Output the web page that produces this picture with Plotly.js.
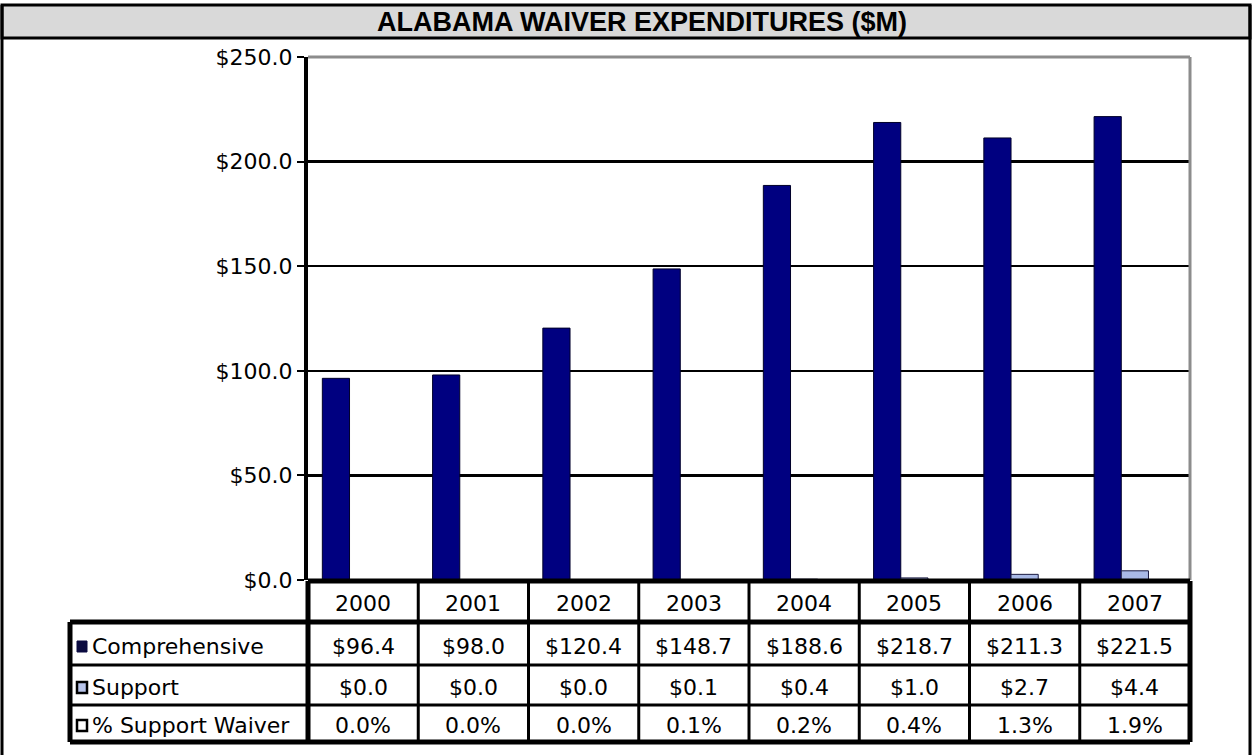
<!DOCTYPE html>
<html><head><meta charset="utf-8">
<script src="https://cdn.plot.ly/plotly-3.0.1.min.js"></script>
<style>html,body{margin:0;padding:0;background:#fff}</style>
</head><body>
<div id="chart" style="width:1253px;height:755px"></div>
<script>
// ---- data ----
const years = ['2000','2001','2002','2003','2004','2005','2006','2007'];
const comprehensive = [96.4, 98.0, 120.4, 148.7, 188.6, 218.7, 211.3, 221.5];
const support = [0.0, 0.0, 0.0, 0.1, 0.4, 1.0, 2.7, 4.4];
const pctSupportWaiver = [0.0, 0.0, 0.0, 0.1, 0.2, 0.4, 1.3, 1.9]; // percent
const seriesNames = ['Comprehensive', 'Support', '% Support Waiver'];
const chartTitle = 'ALABAMA WAIVER EXPENDITURES ($M)';

// ---- layout helpers (pixel -> paper) ----
const W = 1253, H = 755, L = 308, R = 1190, T = 57, B = 580;
const px = X => (X - L) / (R - L);
const py = Y => (B - Y) / (B - T);
const FONT = 'DejaVu Sans, Arial, sans-serif';

const traces = [
  {type:'bar', name:seriesNames[0], x:years, y:comprehensive,
   marker:{color:'#000080', line:{color:'#00002a', width:1}}},
  {type:'bar', name:seriesNames[1], x:years, y:support,
   marker:{color:'#a9b9e6', line:{color:'#1a1a40', width:1}}},
  {type:'bar', name:seriesNames[2], x:years, y:pctSupportWaiver.map(v => v/100),
   marker:{color:'#ffffff', line:{color:'#1a1a40', width:1}}}
];

const shapes = [];
const line = (x0,y0,x1,y1,w,c) => shapes.push({type:'line', xref:'paper', yref:'paper',
  x0:x0, y0:y0, x1:x1, y1:y1, line:{color:c||'#000', width:w}});

// title bar and outer frame
shapes.push({type:'rect', xref:'paper', yref:'paper', x0:px(2), x1:px(1250), y0:py(38), y1:py(5),
  fillcolor:'#d9d9d9', line:{color:'#000', width:3}, layer:'below'});
line(px(2), py(5), px(2), py(760), 3);
line(px(1250), py(5), px(1250), py(760), 3);
// plot area gray top/right border
line(0, 1, 1, 1, 3, '#8c8c8c');
line(1, 0, 1, 1, 3, '#8c8c8c');

// data table grid
const n = years.length;
for (let k = 0; k <= n; k++) {
  line(k/n, py(581), k/n, py(742), (k === 0 || k === n) ? 5 : 3);
}
line(px(70), py(622), px(70), py(742), 5);
line(0, py(581), 1, py(581), 5);
line(px(70), py(622), 1, py(622), 5);
line(px(70), py(665), 1, py(665), 3);
line(px(70), py(705), 1, py(705), 3);
line(px(70), py(742), 1, py(742), 5);

// legend keys
const rowCenters = [646, 687, 725];
const keyStyles = [
  {fill:'#0b0b40', lc:'#0b0b40', lw:1},
  {fill:'#b8c4ea', lc:'#000', lw:2.5},
  {fill:'#ffffff', lc:'#000', lw:2.5}
];
rowCenters.forEach((yc, i) => {
  shapes.push({type:'rect', xref:'paper', yref:'paper', x0:px(77), x1:px(87),
    y0:py(yc+6), y1:py(yc-5), fillcolor:keyStyles[i].fill,
    line:{color:keyStyles[i].lc, width:keyStyles[i].lw}});
});

const annotations = [];
const tf = {family:FONT, size:22, color:'#000'};
seriesNames.forEach((s, i) => {
  annotations.push({xref:'paper', yref:'paper', x:px(90), y:py(rowCenters[i]),
    xanchor:'left', yanchor:'middle', text:s, showarrow:false, font:tf});
});
const rows = [
  comprehensive.map(v => '$' + v.toFixed(1)),
  support.map(v => '$' + v.toFixed(1)),
  pctSupportWaiver.map(v => v.toFixed(1) + '%')
];
years.forEach((yr, j) => {
  const xc = (j + 0.5) / n;   // centre of category j on the x axis
  annotations.push({xref:'paper', yref:'paper', x:xc, y:py(603), xanchor:'center', yanchor:'middle',
    text:yr, showarrow:false, font:tf});
  rows.forEach((r, i) => {
    annotations.push({xref:'paper', yref:'paper', x:xc, y:py(rowCenters[i]), xanchor:'center',
      yanchor:'middle', text:r[j], showarrow:false, font:tf});
  });
});

const layout = {
  width:W, height:H,
  margin:{l:L, r:W-R, t:T, b:H-B, pad:0},
  paper_bgcolor:'#fff', plot_bgcolor:'#fff',
  showlegend:false,
  barmode:'group', bargap:0.26, bargroupgap:0,
  title:{text:'<b>' + chartTitle + '</b>', x:642/W, xanchor:'center', y:1 - 22/H, yanchor:'middle',
    font:{family:'Liberation Sans, Arial, sans-serif', size:27, color:'#000'}},
  xaxis:{type:'category', range:[-0.5, n-0.5], showticklabels:false, showgrid:false,
    zeroline:false, showline:false, ticks:''},
  yaxis:{range:[0,250], dtick:50, tickprefix:'$', tickformat:'.1f',
    showgrid:true, gridcolor:'#000', gridwidth:2.5, zeroline:false,
    showline:true, linecolor:'#000', linewidth:4,
    ticks:'outside', ticklen:7, tickwidth:2, tickcolor:'#000',
    tickfont:{family:FONT, size:22, color:'#000'}},
  shapes:shapes, annotations:annotations
};

Plotly.newPlot('chart', traces, layout, {displayModeBar:false, staticPlot:true});
</script>
</body></html>
